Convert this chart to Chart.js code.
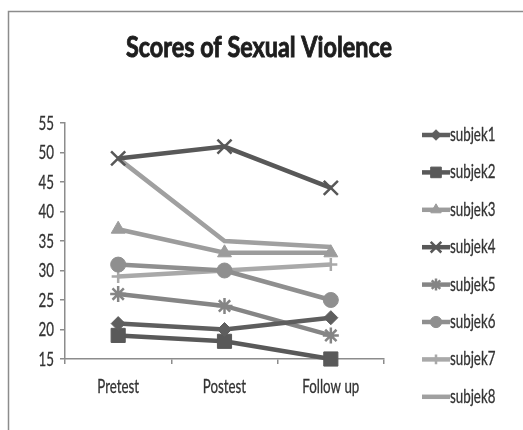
<!DOCTYPE html>
<html>
<head>
<meta charset="utf-8">
<script src="https://cdn.jsdelivr.net/npm/chart.js@4"></script>
<style>
  html, body { margin: 0; padding: 0; background: #fff; }
  #wrap { width: 523px; height: 430px; position: relative; }
</style>
</head>
<body>
<div id="wrap"><canvas id="chart" width="523" height="430"></canvas></div>
<script>
// ── Data ────────────────────────────────────────────────────────────────
const phases   = ['Pretest', 'Postest', 'Follow up'];
const subjects = ['subjek1', 'subjek2', 'subjek3', 'subjek4', 'subjek5', 'subjek6', 'subjek7', 'subjek8'];
const subjek1  = [21, 20, 22];
const subjek2  = [19, 18, 15];
const subjek3  = [37, 33, 33];
const subjek4  = [49, 51, 44];
const subjek5  = [26, 24, 19];
const subjek6  = [31, 30, 25];
const subjek7  = [29, 30, 31];
const subjek8  = [49, 35, 34];
const yTicks   = [15, 20, 25, 30, 35, 40, 45, 50, 55];
const titleText = 'Scores of Sexual Violence';

// ── Styles ──────────────────────────────────────────────────────────────
const FONT    = 'Lato, "Open Sans", sans-serif';
const SQUEEZE = 0.72;              // reference text is horizontally condensed
const colours = ['#5e5e5e', '#595959', '#9c9c9c', '#585858', '#858585', '#8f8f8f', '#a9a9a9', '#a0a0a0'];
const markers = ['rectRot', 'rect', 'triangle', 'crossRot', 'star', 'circle', 'cross', false];
const radii   = [7, 10, 8, 10, 8, 7.5, 6.5, 0];
const values  = [subjek1, subjek2, subjek3, subjek4, subjek5, subjek6, subjek7, subjek8];
const thinMarks = ['cross', 'crossRot', 'star'];

const datasets = subjects.map((name, i) => ({
  label: name,
  data: values[i],
  borderColor: colours[i],
  backgroundColor: colours[i],
  borderWidth: 4.5,
  pointStyle: markers[i],
  pointRadius: radii[i],
  pointBorderWidth: thinMarks.includes(markers[i]) ? 2.5 : 1,
  pointBorderColor: colours[i],
  pointBackgroundColor: colours[i],
  clip: false,
  tension: 0,
}));

// condensed text helper: draw text squeezed horizontally around an anchor
function squeezeText(ctx, text, x, y, align, sx, stroke) {
  const w = ctx.measureText(text).width * sx;
  let left = x;
  if (align === 'center') left = x - w / 2;
  else if (align === 'right') left = x - w;
  ctx.save();
  ctx.translate(left, y);
  ctx.scale(sx, 1);
  ctx.textAlign = 'left';
  ctx.fillText(text, 0, 0);
  if (stroke) {
    ctx.strokeStyle = ctx.fillStyle;
    ctx.lineWidth = stroke;
    ctx.strokeText(text, 0, 0);
  }
  ctx.restore();
}

// ── Frame, title, tick labels and side legend drawn on the canvas ───────
const framePlugin = {
  id: 'frame',
  beforeDraw(chart) {
    const ctx = chart.ctx;
    ctx.save();
    ctx.strokeStyle = '#8c8c8c';
    ctx.lineWidth = 1.5;
    ctx.beginPath();
    ctx.moveTo(8.5, 440);
    ctx.lineTo(8.5, 11.5);
    ctx.lineTo(530, 11.5);
    ctx.stroke();
    ctx.restore();
  },
};

const textPlugin = {
  id: 'texts',
  afterDraw(chart) {
    const ctx = chart.ctx;
    const { x, y } = chart.scales;
    ctx.save();
    ctx.textBaseline = 'alphabetic';

    // title, fitted to the reference width
    ctx.fillStyle = '#1e1e1e';
    ctx.font = 'bold 28px ' + FONT;
    const tw = ctx.measureText(titleText).width;
    squeezeText(ctx, titleText, 259, 57, 'center', 266 / tw, 0.9);

    // axis labels
    ctx.fillStyle = '#333';
    ctx.font = '18.5px ' + FONT;
    phases.forEach((p, i) => squeezeText(ctx, p, x.getPixelForValue(i), 393, 'center', SQUEEZE, 0.3));
    yTicks.forEach(v => squeezeText(ctx, String(v), 54, y.getPixelForValue(v) + 6.5, 'right', SQUEEZE, 0.3));

    // legend
    chart.data.datasets.forEach((ds, i) => {
      const ly = 135 + i * 37.4;
      ctx.strokeStyle = ds.borderColor;
      ctx.fillStyle = ds.borderColor;
      ctx.lineWidth = 4.5;
      ctx.beginPath();
      ctx.moveTo(422, ly);
      ctx.lineTo(450, ly);
      ctx.stroke();
      if (ds.pointStyle) {
        ctx.lineWidth = ds.pointBorderWidth;
        Chart.helpers.drawPoint(ctx, { pointStyle: ds.pointStyle, radius: ds.pointRadius * 0.75, borderWidth: ds.pointBorderWidth, rotation: 0 }, 436, ly);
      }
      ctx.fillStyle = '#333';
      squeezeText(ctx, ds.label, 450, ly + 6, 'left', SQUEEZE, 0.3);
    });
    ctx.restore();
  },
};

new Chart(document.getElementById('chart'), {
  type: 'line',
  data: { labels: phases, datasets },
  plugins: [framePlugin, textPlugin],
  options: {
    responsive: false,
    animation: false,
    layout: { padding: { left: 20, right: 139, top: 123, bottom: 41 } },
    plugins: {
      legend: { display: false },
      tooltip: { enabled: false },
      title: { display: false },
    },
    scales: {
      x: {
        offset: true,
        afterFit(scale) { scale.height = 30; },
        grid: { display: true, offset: true, drawOnChartArea: false, color: '#8c8c8c', tickLength: 5, lineWidth: 1.5 },
        border: { color: '#8c8c8c', width: 1.5 },
        ticks: { display: false },
      },
      y: {
        min: 15,
        max: 55,
        afterBuildTicks(scale) { scale.ticks = yTicks.map(v => ({ value: v })); },
        afterFit(scale) { scale.width = 45; },
        grid: { display: true, drawOnChartArea: false, color: '#8c8c8c', tickLength: 5, lineWidth: 1.5 },
        border: { color: '#8c8c8c', width: 1.5 },
        ticks: { display: false },
      },
    },
  },
});
</script>
</body>
</html>
